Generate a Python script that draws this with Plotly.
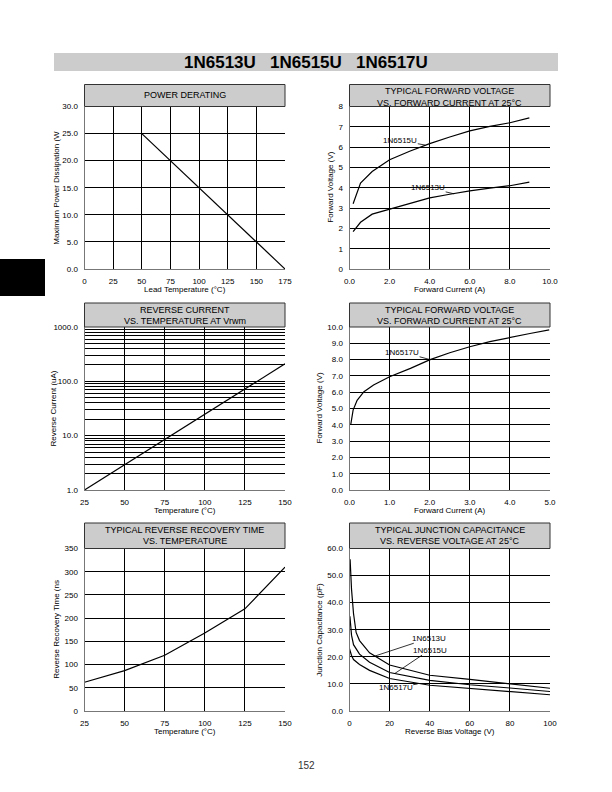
import plotly.graph_objects as go

W, H = 612, 792
FONT = "Liberation Sans, Arial, Helvetica, sans-serif"

# ---------------- data ----------------
# Power derating
derate_temp = [50, 175]
derate_power = [25.0, 0.0]

# Typical forward voltage (1N6513U / 1N6515U)
fv_current_a = [0.18, 0.55, 1.13, 2.0, 3.0, 4.0, 5.0, 6.0, 7.0, 8.0, 8.97]
fv_6515 = [3.21, 4.23, 4.80, 5.38, 5.80, 6.17, 6.50, 6.80, 7.02, 7.20, 7.44]
fv_6513 = [1.84, 2.30, 2.70, 2.95, 3.25, 3.50, 3.68, 3.85, 3.98, 4.10, 4.28]

# Reverse current vs temperature
rc_temp = [25, 150]
rc_current = [1.0, 210.0]

# Typical forward voltage (1N6517U)
fv_current_b = [0.03, 0.09, 0.19, 0.36, 0.6, 1.0, 1.52, 2.01, 2.5, 3.0, 3.5, 4.0, 4.5, 4.98]
fv_6517 = [3.99, 4.9, 5.5, 6.03, 6.44, 6.95, 7.46, 8.0, 8.42, 8.79, 9.1, 9.37, 9.6, 9.82]

# Reverse recovery time vs temperature
trr_temp = [25, 50, 75, 100, 125, 150]
trr_ns = [62, 87, 120, 168, 220, 310]

# Junction capacitance vs reverse voltage
cap_v_6513 = [0.3, 1, 2, 3.3, 5, 10, 20, 40, 60, 80, 100]
cap_6513 = [56, 45, 36, 29, 26, 21.5, 17, 13.2, 11.7, 10.0, 8.4]
cap_v_6515 = [0.2, 1, 2, 5, 10, 20, 40, 60, 80, 100]
cap_6515 = [35, 28, 24.5, 21, 18, 14.2, 11.3, 9.7, 8.5, 7.2]
cap_v_6517 = [0, 1, 2, 5, 10, 20, 40, 60, 80, 100]
cap_6517 = [23, 20.5, 19, 17.2, 15, 12, 9.5, 8.3, 7.1, 6.0]

# ---------------- helpers ----------------
def px(x):
    return x / W

def py(y):
    return 1 - y / H

fig = go.Figure()

line_style = dict(color="black", width=1.2)

def add(x, y, xa, ya):
    fig.add_trace(go.Scatter(x=x, y=y, mode="lines", line=line_style,
                             xaxis=xa, yaxis=ya, showlegend=False,
                             hoverinfo="skip"))

add(derate_temp, derate_power, "x", "y")
add(fv_current_a, fv_6515, "x2", "y2")
add(fv_current_a, fv_6513, "x2", "y2")
add(rc_temp, rc_current, "x3", "y3")
add(fv_current_b, fv_6517, "x4", "y4")
add(trr_temp, trr_ns, "x5", "y5")
add(cap_v_6513, cap_6513, "x6", "y6")
add(cap_v_6515, cap_6515, "x6", "y6")
add(cap_v_6517, cap_6517, "x6", "y6")

# panel geometry (pixels)
LX = (84.5, 285.0)
RX = (349.5, 550.0)
ROWS = [(106.5, 269.0), (327.0, 490.0), (548.5, 711.0)]
BOXES = [(84.5, 106.5), (303.0, 327.0), (523.0, 548.5)]

tickfont = dict(family=FONT, size=8, color="black")

def xa(xpx, rng, tickvals, ticktext, anchor):
    return dict(domain=[px(xpx[0]), px(xpx[1])], range=rng, tickmode="array",
                tickvals=tickvals, ticktext=ticktext, showgrid=True,
                gridcolor="black", gridwidth=1.3, zeroline=False,
                showline=True, linecolor="#777", linewidth=1,
                ticks="", tickfont=tickfont, anchor=anchor, automargin=False,
                ticklabelstandoff=4, fixedrange=True)

def ya(ypx, rng, tickvals, ticktext, anchor, typ="linear"):
    return dict(domain=[py(ypx[1]), py(ypx[0])], range=rng, tickmode="array",
                tickvals=tickvals, ticktext=ticktext, showgrid=True,
                gridcolor="black", gridwidth=1.3, zeroline=False,
                showline=True, linecolor="#777", linewidth=1,
                ticks="", tickfont=tickfont, anchor=anchor, type=typ,
                automargin=False, ticklabelstandoff=4, fixedrange=True)

t25 = [25, 50, 75, 100, 125, 150]
layout = dict(
    xaxis=xa(LX, [0, 175], [0, 25, 50, 75, 100, 125, 150, 175],
             ["0", "25", "50", "75", "100", "125", "150", "175"], "y"),
    yaxis=ya(ROWS[0], [0, 30], [0, 5, 10, 15, 20, 25, 30],
             ["0.0", "5.0", "10.0", "15.0", "20.0", "25.0", "30.0"], "x"),
    xaxis2=xa(RX, [0, 10], [0, 2, 4, 6, 8, 10],
              ["0.0", "2.0", "4.0", "6.0", "8.0", "10.0"], "y2"),
    yaxis2=ya(ROWS[0], [0, 8], list(range(9)), [str(i) for i in range(9)], "x2"),
    xaxis3=xa(LX, [25, 150], t25, [str(t) for t in t25], "y3"),
    yaxis3=ya(ROWS[1], [0, 3], [1, 10, 100, 1000],
              ["1.0", "10.0", "100.0", "1000.0"], "x3", typ="log"),
    xaxis4=xa(RX, [0, 5], [0, 1, 2, 3, 4, 5],
              ["0.0", "1.0", "2.0", "3.0", "4.0", "5.0"], "y4"),
    yaxis4=ya(ROWS[1], [0, 10], list(range(11)),
              ["%.1f" % i for i in range(11)], "x4"),
    xaxis5=xa(LX, [25, 150], t25, [str(t) for t in t25], "y5"),
    yaxis5=ya(ROWS[2], [0, 350], list(range(0, 351, 50)),
              [str(v) for v in range(0, 351, 50)], "x5"),
    xaxis6=xa(RX, [0, 100], [0, 20, 40, 60, 80, 100],
              ["0", "20", "40", "60", "80", "100"], "y6"),
    yaxis6=ya(ROWS[2], [0, 60], list(range(0, 61, 10)),
              ["%.1f" % v for v in range(0, 61, 10)], "x6"),
)
minor_vals = [m * d for d in (1, 10, 100) for m in range(2, 10)]
layout["yaxis3"]["minor"] = dict(tickmode="array", tickvals=minor_vals,
                                 showgrid=True, gridcolor="black",
                                 gridwidth=1.3, ticks="")

shapes = []
annotations = []

# header bar
shapes.append(dict(type="rect", xref="paper", yref="paper",
                   x0=px(54), x1=px(558), y0=py(71), y1=py(53),
                   fillcolor="#cccccc", line=dict(width=0), layer="below"))
annotations.append(dict(xref="paper", yref="paper", x=px(306), y=py(62.5),
                        text="<b>1N6513U\u00a0\u00a0 1N6515U\u00a0\u00a0 1N6517U</b>",
                        showarrow=False, xanchor="center", yanchor="middle",
                        font=dict(family=FONT, size=17, color="black")))
# black side tab
shapes.append(dict(type="rect", xref="paper", yref="paper",
                   x0=px(0), x1=px(45), y0=py(296), y1=py(259),
                   fillcolor="black", line=dict(width=0)))

# title boxes
titles = [
    (LX, 0, ["POWER DERATING"]),
    (RX, 0, ["TYPICAL FORWARD VOLTAGE", "VS. FORWARD CURRENT AT 25\u00b0C"]),
    (LX, 1, ["REVERSE CURRENT", "VS. TEMPERATURE AT Vrwm"]),
    (RX, 1, ["TYPICAL FORWARD VOLTAGE", "VS. FORWARD CURRENT AT 25\u00b0C"]),
    (LX, 2, ["TYPICAL REVERSE RECOVERY TIME", "VS. TEMPERATURE"]),
    (RX, 2, ["TYPICAL JUNCTION CAPACITANCE", "VS. REVERSE VOLTAGE AT 25\u00b0C"]),
]
for xr, r, lines in titles:
    y0, y1 = BOXES[r]
    shapes.append(dict(type="rect", xref="paper", yref="paper",
                       x0=px(xr[0]), x1=px(xr[1]), y0=py(y1), y1=py(y0),
                       fillcolor="#cccccc", line=dict(color="#333", width=1)))
    cx = (xr[0] + xr[1]) / 2
    if len(lines) == 1:
        ys = [(y0 + y1) / 2]
    else:
        ys = [y0 + 7, y0 + 18]
    for t, yy in zip(lines, ys):
        annotations.append(dict(xref="paper", yref="paper", x=px(cx), y=py(yy),
                                text=t, showarrow=False, xanchor="center",
                                yanchor="middle",
                                font=dict(family=FONT, size=9, color="black")))

# axis titles
axis_titles = [
    (LX, 0, "Lead Temperature (\u00b0C)", "Maximum Power Dissipation (W", 57),
    (RX, 0, "Forward Current (A)", "Forward Voltage (V)", 331),
    (LX, 1, "Temperature (\u00b0C)", "Reverse Current (uA)", 53),
    (RX, 1, "Forward Current (A)", "Forward Voltage (V)", 319),
    (LX, 2, "Temperature (\u00b0C)", "Reverse Recovery Time (ns", 57),
    (RX, 2, "Reverse Bias Voltage (V)", "Junction Capacitance (pF)", 320),
]
for xr, r, xt, yt, ylx in axis_titles:
    top, bot = ROWS[r]
    annotations.append(dict(xref="paper", yref="paper", x=px((xr[0] + xr[1]) / 2),
                            y=py(bot + 20.5), text=xt, showarrow=False,
                            xanchor="center", yanchor="middle",
                            font=dict(family=FONT, size=8, color="black")))
    annotations.append(dict(xref="paper", yref="paper", x=px(ylx),
                            y=py((top + bot) / 2), text=yt, showarrow=False,
                            textangle=-90, xanchor="center", yanchor="middle",
                            font=dict(family=FONT, size=8, color="black")))

# curve labels
lab_font = dict(family=FONT, size=8, color="black")
curve_labels = [
    ("x2", "y2", 3.78, 6.10, "1N6515U", -25, -4.5),
    ("x2", "y2", 5.22, 3.70, "1N6513U", -26, -6),
    ("x4", "y4", 2.01, 8.00, "1N6517U", -28, -7.5),
    ("x6", "y6", 12.7, 20.3, "1N6513U", 54, -17.8),
    ("x6", "y6", 22.7, 13.9, "1N6515U", 34.5, -23.2),
    ("x6", "y6", 34.0, 10.0, "1N6517U", -22, 4),
]
for xr_, yr_, x, y, t, ax_, ay_ in curve_labels:
    annotations.append(dict(xref=xr_, yref=yr_, x=x, y=y, text=t,
                            showarrow=True, arrowhead=0, arrowwidth=0.8,
                            arrowcolor="black", ax=ax_, ay=ay_, borderpad=0,
                            font=lab_font))

# page number
annotations.append(dict(xref="paper", yref="paper", x=px(306), y=py(765),
                        text="152", showarrow=False, xanchor="center",
                        yanchor="middle",
                        font=dict(family=FONT, size=10, color="#333")))

fig.update_layout(**layout)
fig.update_layout(width=W, height=H, autosize=False,
                  margin=dict(l=0, r=0, t=0, b=0, pad=0, autoexpand=False),
                  paper_bgcolor="white", plot_bgcolor="white",
                  shapes=shapes, annotations=annotations,
                  font=dict(family=FONT), showlegend=False)

post = """
var s = document.createElement('style');
s.textContent = 'html,body{margin:0!important;padding:0!important;overflow:hidden!important;}';
document.head.appendChild(s);
"""

fig.write_html("out.html", config={"displayModeBar": False},
               post_script=post)
